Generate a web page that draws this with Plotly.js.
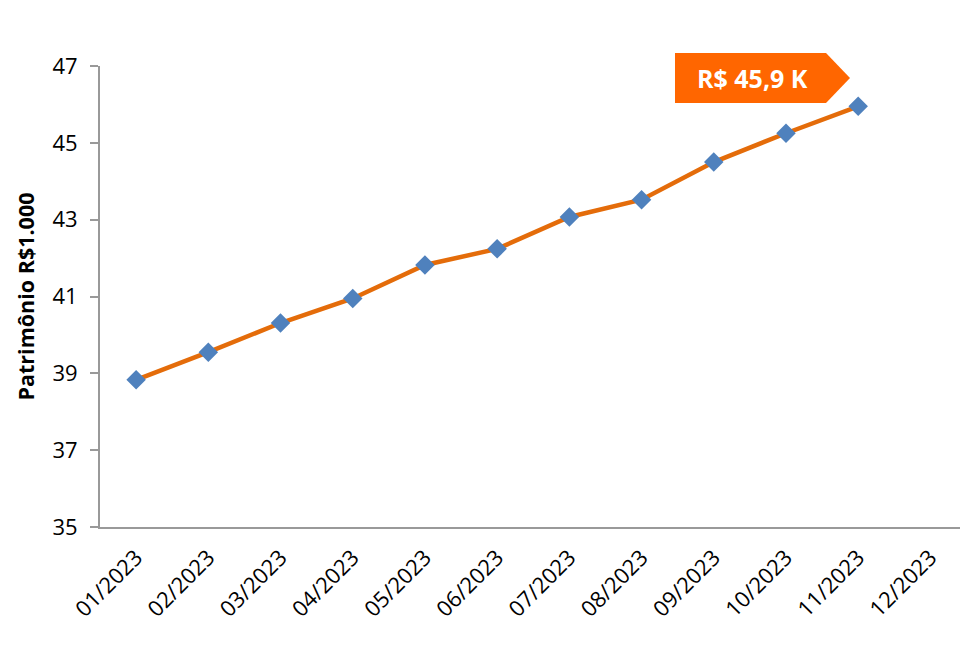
<!DOCTYPE html>
<html>
<head>
<meta charset="utf-8">
<script src="https://cdn.plot.ly/plotly-3.0.1.min.js"></script>
<style>html,body{margin:0;padding:0;background:#fff;}#chart{width:960px;height:657px;}</style>
</head>
<body>
<div id="chart"></div>
<script>
const months = ["01/2023","02/2023","03/2023","04/2023","05/2023","06/2023","07/2023","08/2023","09/2023","10/2023","11/2023","12/2023"];
const patrimonio = [38.83, 39.55, 40.31, 40.95, 41.82, 42.24, 43.07, 43.52, 44.5, 45.25, 45.95, null];
const yTicks = [35, 37, 39, 41, 43, 45, 47];
const labelText = "R$ 45,9 K";

const trace = {
  x: months,
  y: patrimonio,
  type: "scatter",
  mode: "lines+markers",
  line: {color: "#E46C0A", width: 4.5},
  marker: {symbol: "diamond", size: 15, color: "#4F81BD"},
  hoverinfo: "x+y"
};

const font = "'Open Sans', sans-serif";

const layout = {
  width: 960, height: 657,
  margin: {l: 100, r: 0, t: 66, b: 130},
  paper_bgcolor: "#fff", plot_bgcolor: "#fff",
  showlegend: false,
  font: {family: font, color: "#000", size: 22},
  xaxis: {
    type: "category",
    range: [-0.5, 11.41],
    showline: true, linecolor: "#999", linewidth: 2,
    ticks: "", showgrid: false, zeroline: false,
    tickangle: -45,
    ticklabelstandoff: 7,
    tickfont: {size: 22, family: font}
  },
  yaxis: {
    range: [35, 47],
    tickvals: yTicks,
    showline: true, linecolor: "#999", linewidth: 2,
    ticks: "outside", ticklen: 8, tickcolor: "#999", tickwidth: 2,
    ticklabelstandoff: 8,
    showgrid: false, zeroline: false,
    tickfont: {size: 22, family: font},
    title: {text: "<b>Patrimônio R$1.000</b>", font: {size: 21.5, family: font}, standoff: 12}
  },
  shapes: [{
    type: "path", xref: "paper", yref: "paper",
    path: "M 0.6686 1.028 L 0.8442 1.028 L 0.8721 0.974 L 0.8442 0.92 L 0.6686 0.92 Z",
    fillcolor: "#FF6600", line: {width: 0}
  }],
  annotations: [{
    xref: "paper", yref: "paper",
    x: 0.759, y: 0.974, xanchor: "center", yanchor: "middle",
    text: "<b>" + labelText + "</b>", showarrow: false,
    font: {color: "#fff", size: 25, family: font}
  }]
};

Plotly.newPlot("chart", [trace], layout, {displayModeBar: false, staticPlot: true});
</script>
</body>
</html>
